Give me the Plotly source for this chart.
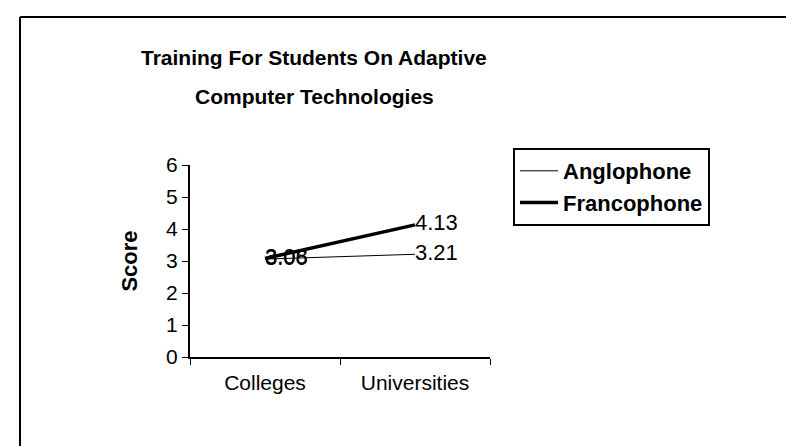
import plotly.graph_objects as go

# ---------- DADOS ----------
categorias = ['Colleges', 'Universities']
anglophone = [3.06, 3.21]
francophone = [3.08, 4.13]
titulo_l1 = 'Training For Students On Adaptive'
titulo_l2 = 'Computer Technologies'

# dimensões da área do gráfico (px) para converter posições em paper
L, R, T, B = 182, 312, 157, 97
W, H = 794, 446
pw, ph = W - L - R, H - T - B


def px_x(x):
    return (x - L) / pw


def px_y(y):
    return (H - B - y) / ph


fig = go.Figure()

fig.add_trace(go.Scatter(
    x=categorias, y=anglophone, name='Anglophone',
    mode='lines+text',
    line=dict(color='black', width=1),
    text=[f'{v:.2f}' for v in anglophone],
    textposition='middle right',
    textfont=dict(size=22, color='black')
))

fig.add_trace(go.Scatter(
    x=categorias, y=francophone, name='Francophone',
    mode='lines+text',
    line=dict(color='black', width=3.5),
    text=[f'{v:.2f}' for v in francophone],
    textposition='middle right',
    textfont=dict(size=22, color='black')
))

fig.update_layout(
    width=W,
    height=H,
    margin=dict(l=L, r=R, t=T, b=B),
    plot_bgcolor='white',
    paper_bgcolor='white',
    font=dict(family='Arial, Liberation Sans, sans-serif', color='black', size=21),
    showlegend=True,
    legend=dict(
        x=px_x(505),
        y=px_y(140),
        xanchor='left',
        yanchor='top',
        bordercolor='black',
        borderwidth=2,
        bgcolor='white',
        font=dict(size=22, color='black', weight='bold'),
        itemwidth=38,
        tracegroupgap=0
    ),
    xaxis=dict(
        type='category',
        range=[-0.5, 1.5],
        tickson='boundaries',
        ticks='outside',
        ticklen=6,
        tickcolor='black',
        showline=True,
        linecolor='black',
        linewidth=2,
        showgrid=False,
        zeroline=False,
        ticklabelstandoff=6,
        tickfont=dict(size=21)
    ),
    yaxis=dict(
        range=[0, 6],
        dtick=1,
        ticks='outside',
        ticklen=6,
        tickcolor='black',
        showline=True,
        linecolor='black',
        linewidth=2,
        showgrid=False,
        zeroline=False,
        title=dict(text='<b>Score</b>', font=dict(size=22), standoff=22),
        tickfont=dict(size=21)
    )
)

# título em duas linhas
fonte_titulo = dict(family='Arial, Liberation Sans, sans-serif', size=21, color='black')
for texto, ypx in [(titulo_l1, 49), (titulo_l2, 88)]:
    fig.add_annotation(
        text='<b>' + texto + '</b>',
        xref='paper', yref='paper',
        x=px_x(306), y=px_y(ypx),
        xanchor='center', yanchor='middle',
        showarrow=False,
        font=fonte_titulo
    )

# moldura externa (apenas topo e esquerda visíveis na imagem)
fig.add_shape(type='line', xref='paper', yref='paper',
              x0=px_x(12), x1=px_x(794), y0=px_y(9), y1=px_y(9),
              line=dict(color='black', width=2))
fig.add_shape(type='line', xref='paper', yref='paper',
              x0=px_x(12), x1=px_x(12), y0=px_y(9), y1=px_y(446),
              line=dict(color='black', width=2))

fig.write_html('out.html')
